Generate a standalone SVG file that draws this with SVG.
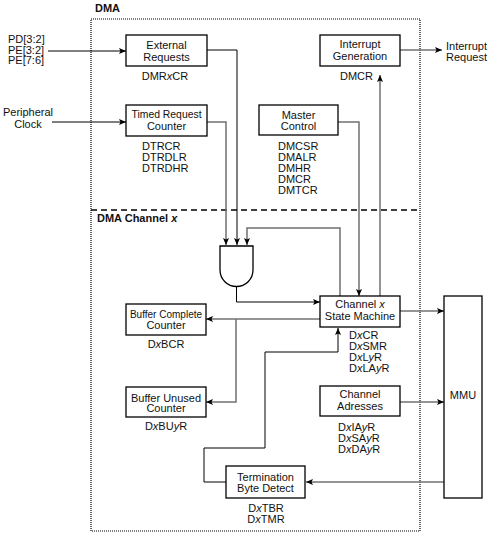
<svg xmlns="http://www.w3.org/2000/svg" width="488" height="534" viewBox="0 0 488 534">
<style>
text{font-family:"Liberation Sans",Arial,sans-serif;font-size:11px;fill:#111}
.c{text-anchor:middle}
.s{font-size:10px}
.b{font-weight:bold}
.i{font-style:italic}
.box{fill:#fff;stroke:#000;stroke-width:1.3}
.k{fill:none;stroke:#000;stroke-width:1}
.g{fill:none;stroke:#707070;stroke-width:1.5}
.ka{marker-end:url(#ah)}
</style>
<defs>
<marker id="ah" markerUnits="userSpaceOnUse" markerWidth="7" markerHeight="6" refX="7" refY="3" orient="auto">
<path d="M0,0 L7,3 L0,6 L1.5,3 z" fill="#000"/>
</marker>
</defs>
<rect width="488" height="534" fill="#fff"/>
<g id="frame">
<rect x="91" y="19" width="329" height="512" fill="none" stroke="#000" stroke-width="1.2" stroke-dasharray="1 1"/>
<line x1="91" y1="210" x2="420" y2="210" stroke="#000" stroke-width="1.5" stroke-dasharray="6 4"/>
<text x="95" y="12" class="b">DMA</text>
<text x="97" y="222" class="b">DMA Channel <tspan class="i">x</tspan></text>
</g>
<g id="connectors">
<path class="k ka" d="M48,51 H126"/>
<path class="k ka" d="M52,122 H126"/>
<path class="k ka" d="M207,50 H237 V245"/>
<path class="g ka" d="M207,122 H226 V245"/>
<path class="g ka" d="M340,296 V228 H247 V245"/>
<path class="k ka" d="M236.5,286 V302 H320"/>
<path class="g ka" d="M338,122 H359 V296"/>
<path class="g ka" d="M380,296 V75"/>
<path class="g ka" d="M400,50 H442"/>
<path class="g ka" d="M400,311 H444"/>
<path class="g ka" d="M400,402 H444"/>
<path class="g ka" d="M444,482 H306"/>
<path class="g ka" d="M320,319 H206"/>
<path class="g ka" d="M236,319 V402 H206"/>
<path class="k ka" d="M226,482 H204 V448 H265 V352 H338 V328"/>
</g>
<g id="inputs">
<text x="8" y="43">PD[3:2]</text>
<text x="8" y="53.5">PE[3:2]</text>
<text x="8" y="64">PE[7:6]</text>
<text x="28" y="116" class="c">Peripheral</text>
<text x="28" y="128" class="c">Clock</text>
</g>
<g id="external-requests">
<rect class="box" x="126" y="35" width="81" height="31"/>
<text x="166.5" y="49" class="c">External</text>
<text x="166.5" y="61" class="c">Requests</text>
<text x="165" y="80" class="c">DMR<tspan class="i">x</tspan>CR</text>
</g>
<g id="timed-request-counter">
<rect class="box" x="126" y="105" width="81" height="31"/>
<text x="166.5" y="118" class="c s" style="font-size:10.4px">Timed Request</text>
<text x="166.5" y="130" class="c">Counter</text>
<text x="142" y="150">DTRCR</text>
<text x="142" y="161">DTRDLR</text>
<text x="142" y="172">DTRDHR</text>
</g>
<g id="master-control">
<rect class="box" x="259" y="105" width="79" height="30"/>
<text x="298.5" y="119" class="c">Master</text>
<text x="298.5" y="130" class="c">Control</text>
<text x="278" y="150">DMCSR</text>
<text x="278" y="161">DMALR</text>
<text x="278" y="172">DMHR</text>
<text x="278" y="183">DMCR</text>
<text x="278" y="194">DMTCR</text>
</g>
<g id="interrupt-generation">
<rect class="box" x="320" y="35" width="80" height="31"/>
<text x="360" y="48" class="c">Interrupt</text>
<text x="360" y="60" class="c">Generation</text>
<text x="340" y="79.5">DMCR</text>
</g>
<g id="interrupt-request">
<text x="446" y="50">Interrupt</text>
<text x="446" y="61">Request</text>
</g>
<g id="and-gate">
<path d="M220,246 H253 V270 A16.5,16.5 0 0 1 220,270 Z" fill="#fff" stroke="#000" stroke-width="1.3"/>
</g>
<g id="state-machine">
<rect class="box" x="320" y="296" width="80" height="31"/>
<text x="360" y="308" class="c">Channel <tspan class="i">x</tspan></text>
<text x="360" y="320" class="c">State Machine</text>
<text x="349" y="339">D<tspan class="i">x</tspan>CR</text>
<text x="349" y="350">D<tspan class="i">x</tspan>SMR</text>
<text x="349" y="361">D<tspan class="i">x</tspan>L<tspan class="i">y</tspan>R</text>
<text x="349" y="372">D<tspan class="i">x</tspan>LA<tspan class="i">y</tspan>R</text>
</g>
<g id="mmu">
<rect class="box" x="444" y="296" width="38" height="202"/>
<text x="463" y="399" class="c">MMU</text>
</g>
<g id="channel-adresses">
<rect class="box" x="320" y="386" width="80" height="30"/>
<text x="360" y="398" class="c">Channel</text>
<text x="360" y="410" class="c">Adresses</text>
<text x="338" y="431">D<tspan class="i">x</tspan>IA<tspan class="i">y</tspan>R</text>
<text x="338" y="442">D<tspan class="i">x</tspan>SA<tspan class="i">y</tspan>R</text>
<text x="338" y="453">D<tspan class="i">x</tspan>DA<tspan class="i">y</tspan>R</text>
</g>
<g id="buffer-complete-counter">
<rect class="box" x="126" y="304" width="80" height="31"/>
<text x="166" y="317.5" class="c s">Buffer Complete</text>
<text x="166" y="329" class="c">Counter</text>
<text x="166" y="347.5" class="c">D<tspan class="i">x</tspan>BCR</text>
</g>
<g id="buffer-unused-counter">
<rect class="box" x="126" y="387" width="80" height="30"/>
<text x="166" y="401.5" class="c">Buffer Unused</text>
<text x="166" y="412" class="c">Counter</text>
<text x="166" y="430" class="c">D<tspan class="i">x</tspan>BU<tspan class="i">y</tspan>R</text>
</g>
<g id="termination-byte-detect">
<rect class="box" x="226" y="466" width="79" height="32"/>
<text x="265.5" y="481" class="c">Termination</text>
<text x="265.5" y="492" class="c">Byte Detect</text>
<text x="266" y="511.5" class="c">D<tspan class="i">x</tspan>TBR</text>
<text x="266" y="522.5" class="c">D<tspan class="i">x</tspan>TMR</text>
</g>
</svg>
